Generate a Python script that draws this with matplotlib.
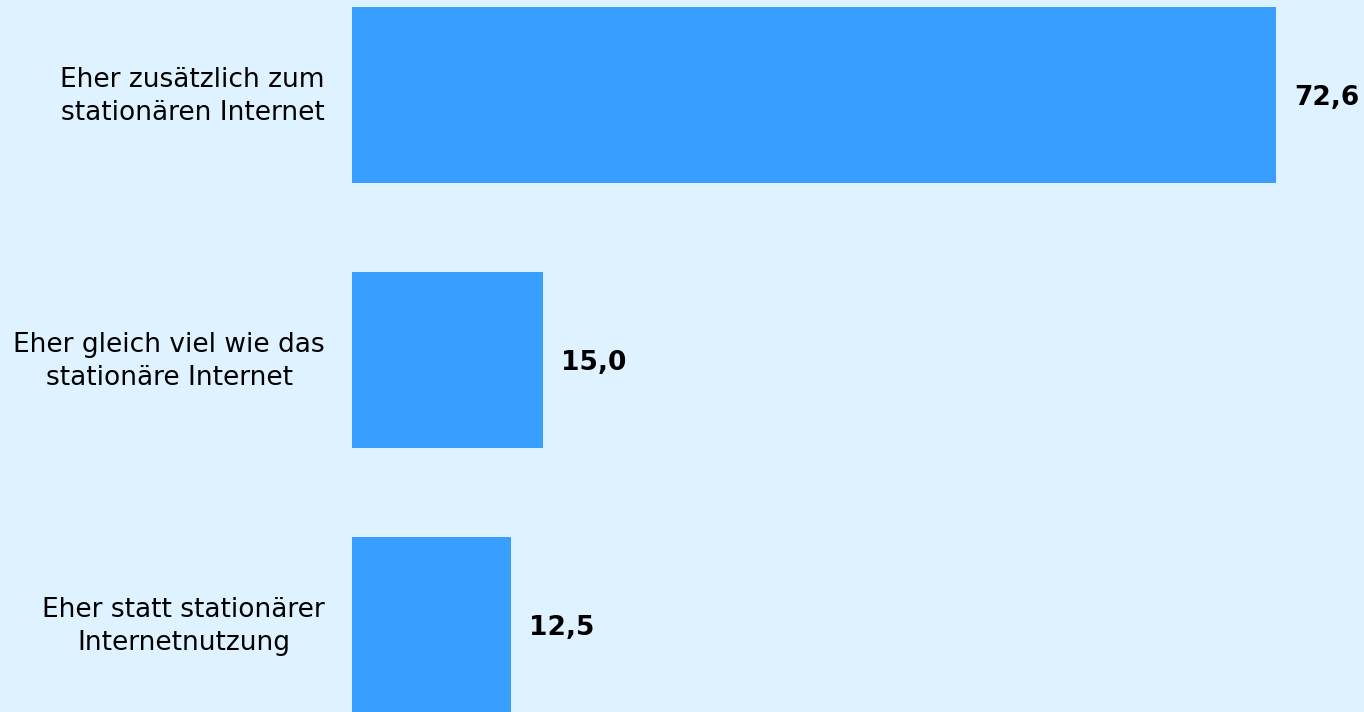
import matplotlib.pyplot as plt

# Mobile Internetnutzung im Verhältnis zur stationären Nutzung (in %)
categories = ['Eher zusätzlich zum\nstationären Internet',
              'Eher gleich viel wie das\nstationäre Internet',
              'Eher statt stationärer\nInternetnutzung']
values = [72.6, 15.0, 12.5]
value_labels = ['72,6', '15,0', '12,5']

bg = '#dff2ff'
bar_color = '#389eff'

fig = plt.figure(figsize=(13.64, 7.12), dpi=100, facecolor=bg)
ax = fig.add_axes([352 / 1364, 0, 1012 / 1364, 1])
ax.set_facecolor(bg)

y = range(len(categories))
ax.barh(y, values, height=0.664, color=bar_color)

# values next to the bars
for i, (v, lab) in enumerate(zip(values, value_labels)):
    ax.annotate(lab, xy=(v, i), xytext=(13, -2), textcoords='offset points',
                va='center', ha='left', fontsize=19, fontweight='bold',
                color='black')

# category names left of the bars
for i, cat in enumerate(categories):
    ax.annotate(cat, xy=(0, i), xycoords=('axes fraction', 'data'),
                xytext=(-19.5, -1), textcoords='offset points',
                va='center', ha='right', multialignment='center',
                fontsize=19, linespacing=1.32, color='black')

ax.set_xlim(0, 79.51)
ax.set_ylim(2.328, -0.3585)
ax.set_xticks([])
ax.set_yticks([])
for s in ax.spines.values():
    s.set_visible(False)

fig.savefig('out.png', dpi=100, facecolor=bg)
